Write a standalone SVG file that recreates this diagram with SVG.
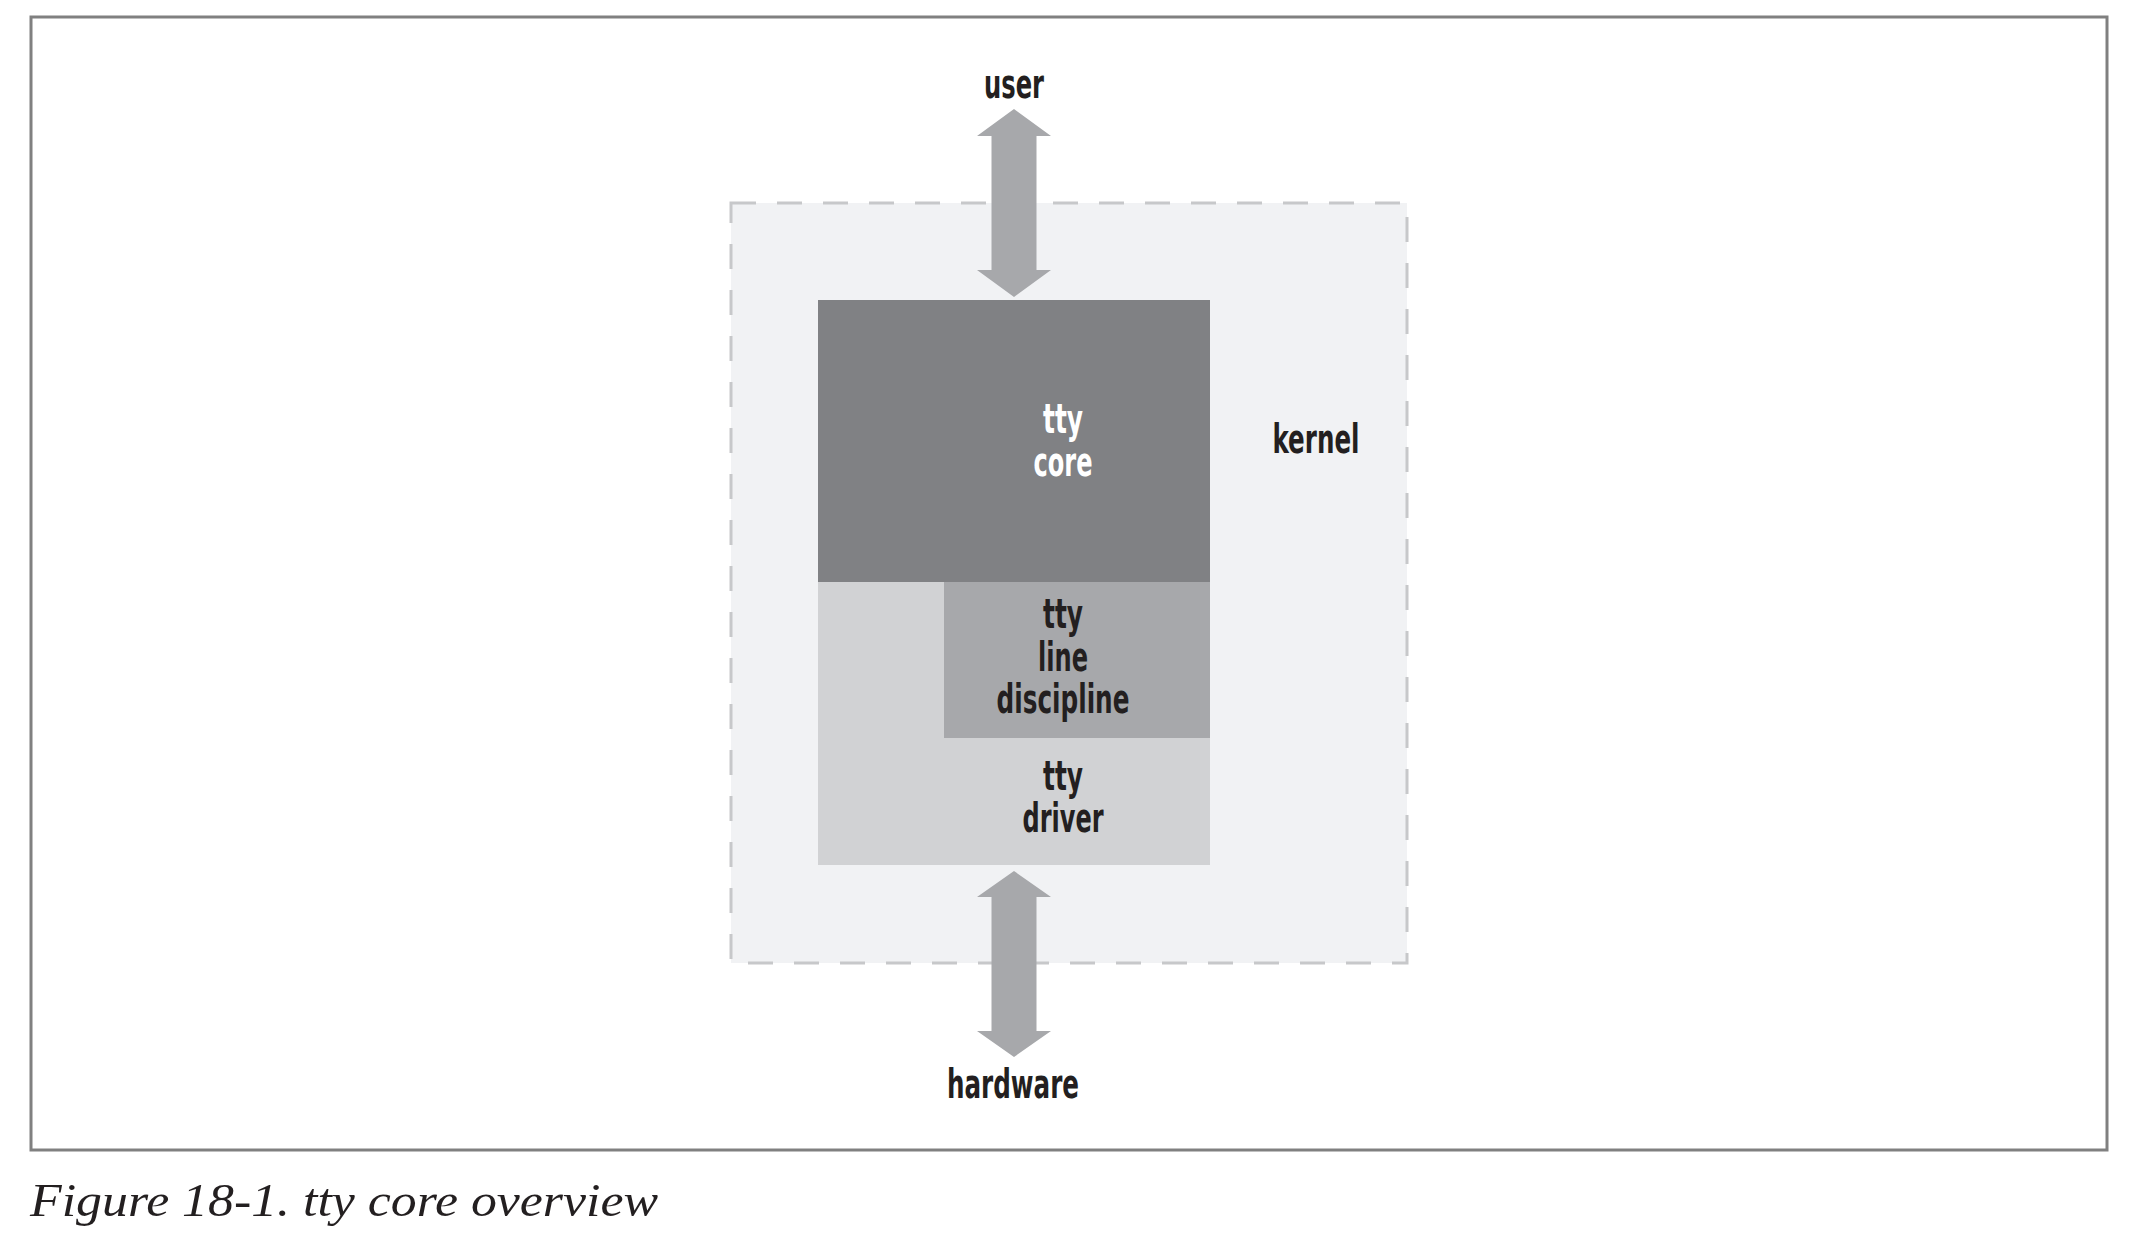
<svg xmlns="http://www.w3.org/2000/svg" width="2146" height="1240" viewBox="0 0 2146 1240">
<style>
.lbl{font-family:"Liberation Sans Narrow","DejaVu Sans Condensed","Liberation Sans",sans-serif;font-weight:600;font-size:40px;fill:#231f20;text-anchor:middle}
.wht{fill:#ffffff}
.cap{font-family:"Liberation Serif","DejaVu Serif",serif;font-style:italic;font-size:46px;fill:#231f20}
.arrow{fill:#a7a8ab}
</style>
<rect width="2146" height="1240" fill="#ffffff"/>
<rect x="31" y="17" width="2076" height="1133" fill="#ffffff" stroke="#808080" stroke-width="3"/>
<g id="kernel">
<rect x="731" y="203" width="676" height="760" fill="#f1f2f4" stroke="#c7c8ca" stroke-width="3" stroke-dasharray="25 21"/>
<text class="lbl" x="1316" y="453" textLength="87" lengthAdjust="spacingAndGlyphs">kernel</text>
</g>
<g id="tty-driver">
<rect x="818" y="582" width="392" height="283" fill="#d1d2d4"/>
<text class="lbl" x="1063" y="790" textLength="40" lengthAdjust="spacingAndGlyphs">tty</text>
<text class="lbl" x="1063" y="832" textLength="81" lengthAdjust="spacingAndGlyphs">driver</text>
</g>
<g id="tty-core">
<rect x="818" y="300" width="392" height="282" fill="#808184"/>
<text class="lbl wht" x="1063" y="433" textLength="40" lengthAdjust="spacingAndGlyphs">tty</text>
<text class="lbl wht" x="1063" y="476" textLength="59" lengthAdjust="spacingAndGlyphs">core</text>
</g>
<g id="tty-line-discipline">
<rect x="944" y="582" width="266" height="156" fill="#a7a8ab"/>
<text class="lbl" x="1063" y="628" textLength="40" lengthAdjust="spacingAndGlyphs">tty</text>
<text class="lbl" x="1063" y="671" textLength="50" lengthAdjust="spacingAndGlyphs">line</text>
<text class="lbl" x="1063" y="713" textLength="133" lengthAdjust="spacingAndGlyphs">discipline</text>
</g>
<g id="user">
<text class="lbl" x="1014" y="98" textLength="60" lengthAdjust="spacingAndGlyphs">user</text>
</g>
<g id="hardware">
<text class="lbl" x="1013" y="1098" textLength="132" lengthAdjust="spacingAndGlyphs">hardware</text>
</g>
<g id="connectors">
<path class="arrow" d="M1014 109 L1051 136 L1036.5 136 L1036.5 270 L1051 270 L1014 297 L977 270 L991.5 270 L991.5 136 L977 136 Z"/>
<path class="arrow" d="M1014 871 L1051 897 L1036.5 897 L1036.5 1031 L1051 1031 L1014 1057 L977 1031 L991.5 1031 L991.5 897 L977 897 Z"/>
</g>
<text class="cap" x="30" y="1216" textLength="628" lengthAdjust="spacingAndGlyphs">Figure 18-1. tty core overview</text>
</svg>
